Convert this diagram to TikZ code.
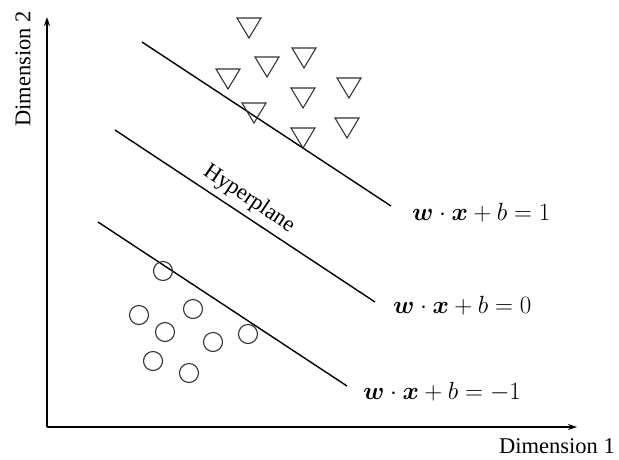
\documentclass[tikz,border=0pt]{standalone}
\usepackage{amsmath,bm}
\usepackage{fontspec}
\setmainfont{Liberation Serif}
\usetikzlibrary{arrows.meta}
\begin{document}
\begin{tikzpicture}[x=1pt,y=-1pt,
  axisline/.style={line width=1.4pt,-{Stealth[length=9pt,width=6pt]}},
  sepline/.style={line width=1.4pt},
  tri/.style={line width=1.1pt,draw=black!80},
  circ/.style={line width=1.1pt,draw=black!80},
  axlabel/.style={inner sep=0pt,font=\fontsize{22.5}{26}\selectfont},
  eqlabel/.style={inner sep=0pt,anchor=west,font=\fontsize{23}{26}\selectfont}]
\useasboundingbox (0,0) rectangle (619,459);
% axes
\coordinate (O) at (47,427);
\coordinate (Ytop) at (47,17);
\coordinate (Xend) at (577,427);
\draw[axisline] (O) -- (Ytop);
\draw[axisline] (O) -- (Xend);
\node[axlabel,rotate=90] (ylab) at (23,69) {Dimension 2};
\node[axlabel] (xlab) at (557,446) {Dimension 1};
% separating lines
\coordinate (L1a) at (142,42);  \coordinate (L1b) at (391,206);
\coordinate (L2a) at (115,130); \coordinate (L2b) at (375,302);
\coordinate (L3a) at (98,222);  \coordinate (L3b) at (347,386);
\draw[sepline] (L1a) -- (L1b);
\draw[sepline] (L2a) -- (L2b);
\draw[sepline] (L3a) -- (L3b);
\node[eqlabel] (eq1) at (412,213) {$\bm{w}\cdot\bm{x}+b=1$};
\node[eqlabel] (eq0) at (393,306) {$\bm{w}\cdot\bm{x}+b=0$};
\node[eqlabel] (eqm) at (363,392) {$\bm{w}\cdot\bm{x}+b=-1$};
\node[axlabel,rotate=-34] (hyp) at (249,199) {Hyperplane};
% triangles
\foreach \cx/\cy in {249/28,267/67,304/58,228/79,349/88,303/98,254/113,347/128,303/138}{
  \draw[tri] (\cx-12,\cy-10) -- (\cx+12,\cy-10) -- (\cx,\cy+10) -- cycle;
}
% circles
\foreach \cx/\cy in {163/271,139/315,193/309,165/332,213/342,248/334,153/361,189/373}{
  \draw[circ] (\cx,\cy) circle (9.5);
}
\end{tikzpicture}
\end{document}
